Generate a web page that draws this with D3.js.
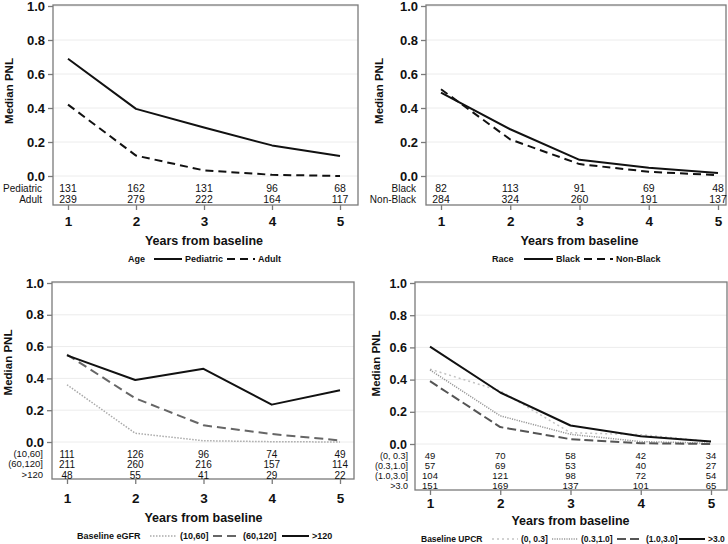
<!DOCTYPE html>
<html><head><meta charset="utf-8">
<script src="https://cdn.jsdelivr.net/npm/d3@7"></script>
<style>body{margin:0;background:#fff}svg{display:block}text{font-family:"Liberation Sans",Arial,sans-serif}</style>
</head><body><svg id="c" width="728" height="544"></svg>
<script>
const years = [1,2,3,4,5];
const yTicks = [0,0.2,0.4,0.6,0.8,1.0];

// Panel A: Age
const ageGroups = ["Pediatric","Adult"];
const agePediatric = [0.69,0.395,0.285,0.18,0.117];
const ageAdult = [0.42,0.12,0.033,0.007,0.0];
const ageNPediatric = [131,162,131,96,68];
const ageNAdult = [239,279,222,164,117];

// Panel B: Race
const raceGroups = ["Black","Non-Black"];
const raceBlack = [0.49,0.275,0.095,0.048,0.018];
const raceNonBlack = [0.51,0.215,0.07,0.025,0.005];
const raceNBlack = [82,113,91,69,48];
const raceNNonBlack = [284,324,260,191,137];

// Panel C: Baseline eGFR
const egfrGroups = ["(10,60]","(60,120]",">120"];
const egfrLow = [0.36,0.055,0.008,0.002,0.0];
const egfrMid = [0.55,0.275,0.105,0.05,0.01];
const egfrHigh = [0.545,0.39,0.46,0.235,0.325];
const egfrNLow = [111,126,96,74,49];
const egfrNMid = [211,260,216,157,114];
const egfrNHigh = [48,55,41,29,22];

// Panel D: Baseline UPCR
const upcrGroups = ["(0, 0.3]","(0.3,1.0]","(1.0,3.0]",">3.0"];
const upcrA = [0.465,0.33,0.07,0.058,0.015];
const upcrB = [0.46,0.175,0.06,0.015,0.005];
const upcrC = [0.39,0.105,0.03,0.005,0.0];
const upcrD = [0.605,0.32,0.115,0.048,0.015];
const upcrNA = [49,70,58,42,34];
const upcrNB = [57,69,53,40,27];
const upcrNC = [104,121,98,72,54];
const upcrND = [151,169,137,101,65];

const STY = {
  solid:{stroke:"#111",w:2,dash:null},
  dash:{stroke:"#111",w:2,dash:"8,5"},
  dotLight:{stroke:"#aaa",w:1.5,dash:"1.5,1.5"},
  dashGray:{stroke:"#666",w:2,dash:"9,5"},
  dotVeryLight:{stroke:"#c4c4c4",w:1.5,dash:"2,3"},
  dotGray:{stroke:"#999",w:1.5,dash:"1.2,1.2"},
  dashDark:{stroke:"#555",w:2,dash:"9,4"}
};

const panels = [
  {fL:53,fR:358,fT:5,fB:205,y0:176,y1:6,x1:68,x5:340,rows:[188,199],rowLabX:42,rowFs:10,tickY:221,titleY:245,yLabX:9,yTickFs:13,
   legY:259,legX:128,legFs:9,legLines:[154,227],legLen:28,
   legTitle:"Age",
   series:[{name:ageGroups[0],v:agePediatric,n:ageNPediatric,s:"solid"},{name:ageGroups[1],v:ageAdult,n:ageNAdult,s:"dash"}]},
  {fL:426,fR:726,fT:5,fB:205,y0:176,y1:6,x1:441,x5:718,rows:[188,199],rowLabX:416,rowFs:10,tickY:221,titleY:245,yLabX:379,yTickFs:13,
   legY:259,legX:492,legFs:9,legLines:[524,584],legLen:29,
   legTitle:"Race",
   series:[{name:raceGroups[0],v:raceBlack,n:raceNBlack,s:"solid"},{name:raceGroups[1],v:raceNonBlack,n:raceNNonBlack,s:"dash"}]},
  {fL:52,fR:354,fT:282,fB:479,y0:442,y1:283,x1:67,x5:340,rows:[454,464,475],rowLabX:43,rowFs:9.5,tickY:498,titleY:522,yLabX:8,yTickFs:13,
   legY:536,legX:77,legFs:9,legLines:[150,213,282],legLen:27,
   legTitle:"Baseline eGFR",
   series:[{name:egfrGroups[0],v:egfrLow,n:egfrNLow,s:"dotLight"},{name:egfrGroups[1],v:egfrMid,n:egfrNMid,s:"dashGray"},{name:egfrGroups[2],v:egfrHigh,n:egfrNHigh,s:"solid"}]},
  {fL:415,fR:727,fT:282,fB:490,y0:444,y1:283,x1:430,x5:711,rows:[456,466,476,486],rowLabX:408,rowFs:9,tickY:503,titleY:525,yLabX:376,yTickFs:12.5,
   legY:539,legX:421,legFs:8.5,legLines:[492,552,617,679],legLen:26,
   legTitle:"Baseline UPCR",
   series:[{name:upcrGroups[0],v:upcrA,n:upcrNA,s:"dotVeryLight"},{name:upcrGroups[1],v:upcrB,n:upcrNB,s:"dotGray"},{name:upcrGroups[2],v:upcrC,n:upcrNC,s:"dashDark"},{name:upcrGroups[3],v:upcrD,n:upcrND,s:"solid"}]}
];

const svg = d3.select("#c");
const frameColor = "#7a7a7a";

panels.forEach(p => {
  const g = svg.append("g");
  const x = d3.scaleLinear().domain([1,5]).range([p.x1,p.x5]);
  const y = d3.scaleLinear().domain([0,1]).range([p.y0,p.y1]);

  g.selectAll("line.grid").data(yTicks).join("line")
    .attr("x1",p.fL).attr("x2",p.fR).attr("y1",d=>y(d)).attr("y2",d=>y(d))
    .attr("stroke","#ececec").attr("stroke-width",1);

  g.append("rect").attr("x",p.fL).attr("y",p.fT).attr("width",p.fR-p.fL).attr("height",p.fB-p.fT)
    .attr("fill","none").attr("stroke",frameColor).attr("stroke-width",1.3);

  const ya = d3.axisLeft(y).tickValues(yTicks).tickFormat(d3.format(".1f")).tickSize(5).tickPadding(3);
  const yg = g.append("g").attr("transform",`translate(${p.fL},0)`).call(ya);
  yg.select(".domain").remove();
  yg.selectAll(".tick line").attr("stroke",frameColor).attr("stroke-width",1.3);
  yg.selectAll(".tick text").attr("font-size",p.yTickFs).attr("font-weight","bold").attr("fill","#111")
    .attr("font-family","'Liberation Sans',Arial,sans-serif");

  const xa = d3.axisBottom(x).tickValues(years).tickFormat(d3.format("d")).tickSize(5).tickPadding(4);
  const xg = g.append("g").attr("transform",`translate(0,${p.fB})`).call(xa);
  xg.select(".domain").remove();
  xg.selectAll(".tick line").attr("stroke",frameColor).attr("stroke-width",1.3);
  xg.selectAll(".tick text").attr("font-size",13.5).attr("font-weight","bold").attr("fill","#111")
    .attr("font-family","'Liberation Sans',Arial,sans-serif")
    .attr("dy","0.35em").attr("y",p.tickY-p.fB);

  g.append("text").attr("x",(p.x1+p.x5)/2).attr("y",p.titleY).attr("text-anchor","middle")
    .attr("font-size",12.5).attr("font-weight","bold").attr("fill","#111").text("Years from baseline");
  g.append("text").attr("transform",`translate(${p.yLabX},${(p.y0+p.y1)/2}) rotate(-90)`)
    .attr("text-anchor","middle").attr("dy","0.35em")
    .attr("font-size",11.5).attr("font-weight","bold").attr("fill","#111").text("Median PNL");

  const line = d3.line().x((d,i)=>x(years[i])).y(d=>y(d));
  p.series.forEach(s => {
    const st = STY[s.s];
    g.append("path").datum(s.v).attr("d",line).attr("fill","none")
      .attr("stroke",st.stroke).attr("stroke-width",st.w).attr("stroke-dasharray",st.dash)
      .attr("stroke-linejoin","round");
  });

  p.series.forEach((s,k) => {
    const ry = p.rows[k];
    g.append("text").attr("x",p.rowLabX).attr("y",ry).attr("dy","0.35em").attr("text-anchor","end")
      .attr("font-size",p.rowFs).attr("fill","#111").text(s.name);
    g.selectAll(null).data(s.n).join("text")
      .attr("x",(d,i)=>x(years[i])).attr("y",ry).attr("dy","0.35em").attr("text-anchor","middle")
      .attr("font-size",p.rowFs+0.5).attr("fill","#111").text(d=>d);
  });

  g.append("text").attr("x",p.legX).attr("y",p.legY).attr("font-size",p.legFs).attr("font-weight","bold")
    .attr("fill","#111").attr("dy","0.35em").text(p.legTitle);
  p.series.forEach((s,k) => {
    const st = STY[s.s];
    const lx = p.legLines[k];
    g.append("line").attr("x1",lx).attr("x2",lx+p.legLen).attr("y1",p.legY).attr("y2",p.legY)
      .attr("stroke",st.stroke).attr("stroke-width",st.w).attr("stroke-dasharray",st.dash);
    g.append("text").attr("x",lx+p.legLen+3).attr("y",p.legY).attr("font-size",p.legFs).attr("font-weight","bold")
      .attr("fill","#111").attr("dy","0.35em").text(s.name);
  });
});
</script></body></html>
